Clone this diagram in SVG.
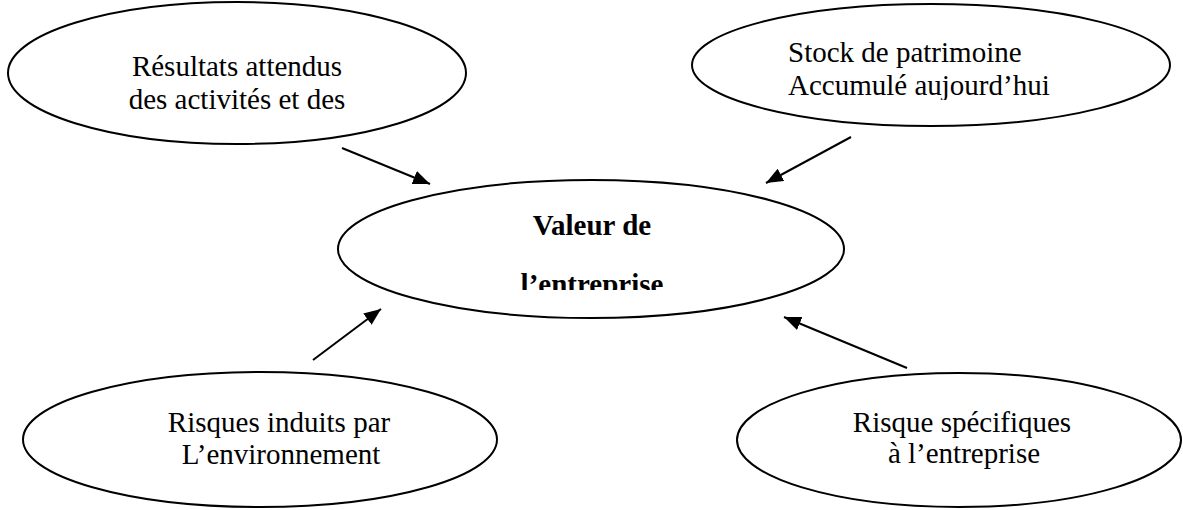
<svg xmlns="http://www.w3.org/2000/svg" width="1183" height="510" viewBox="0 0 1183 510">
  <style>
    .shape { fill: #ffffff; stroke: #000000; stroke-width: 2; }
    .label { font-family: "Liberation Serif", "Times New Roman", serif; font-size: 29px; fill: #000000; }
    .mid { text-anchor: middle; }
    .bold { font-weight: bold; }
    .conn { stroke: #000000; stroke-width: 2; fill: none; }
  </style>
  <defs>
    <marker id="arrow" markerUnits="userSpaceOnUse" markerWidth="18" markerHeight="15" refX="17" refY="7" orient="auto">
      <path d="M0,0 L17,7 L0,14 z" fill="#000000"/>
    </marker>
    <clipPath id="clipTR"><rect x="700" y="0" width="480" height="100"/></clipPath>
    <clipPath id="clipC"><rect x="340" y="180" width="505" height="110"/></clipPath>
  </defs>

  <g id="node-resultats">
    <ellipse class="shape" cx="237" cy="73" rx="229" ry="71"/>
    <text class="label mid" x="237" y="76">Résultats attendus</text>
    <text class="label mid" x="237" y="109">des activités et des</text>
  </g>

  <g id="node-stock">
    <ellipse class="shape" cx="931" cy="65" rx="239" ry="61"/>
    <g clip-path="url(#clipTR)">
      <text class="label" x="788" y="62">Stock de patrimoine</text>
      <text class="label" x="788" y="95">Accumulé aujourd’hui</text>
    </g>
  </g>

  <g id="node-valeur">
    <ellipse class="shape" cx="591" cy="249" rx="253" ry="69"/>
    <g clip-path="url(#clipC)">
      <text class="label mid bold" x="592" y="235">Valeur de</text>
      <text class="label mid bold" x="592" y="294">l’entreprise</text>
    </g>
  </g>

  <g id="node-risques-env">
    <ellipse class="shape" cx="260" cy="439.5" rx="237" ry="67.5"/>
    <text class="label mid" x="279" y="432">Risques induits par</text>
    <text class="label mid" x="281" y="464">L’environnement</text>
  </g>

  <g id="node-risques-spec">
    <ellipse class="shape" cx="959" cy="440" rx="222" ry="67"/>
    <text class="label mid" x="962" y="432">Risque spécifiques</text>
    <text class="label mid" x="964" y="463">à l’entreprise</text>
  </g>

  <g id="connectors">
    <line class="conn" x1="342" y1="148" x2="430" y2="184" marker-end="url(#arrow)"/>
    <line class="conn" x1="851" y1="137" x2="766" y2="183" marker-end="url(#arrow)"/>
    <line class="conn" x1="313" y1="360" x2="381" y2="309" marker-end="url(#arrow)"/>
    <line class="conn" x1="907" y1="368" x2="784" y2="317" marker-end="url(#arrow)"/>
  </g>
</svg>
